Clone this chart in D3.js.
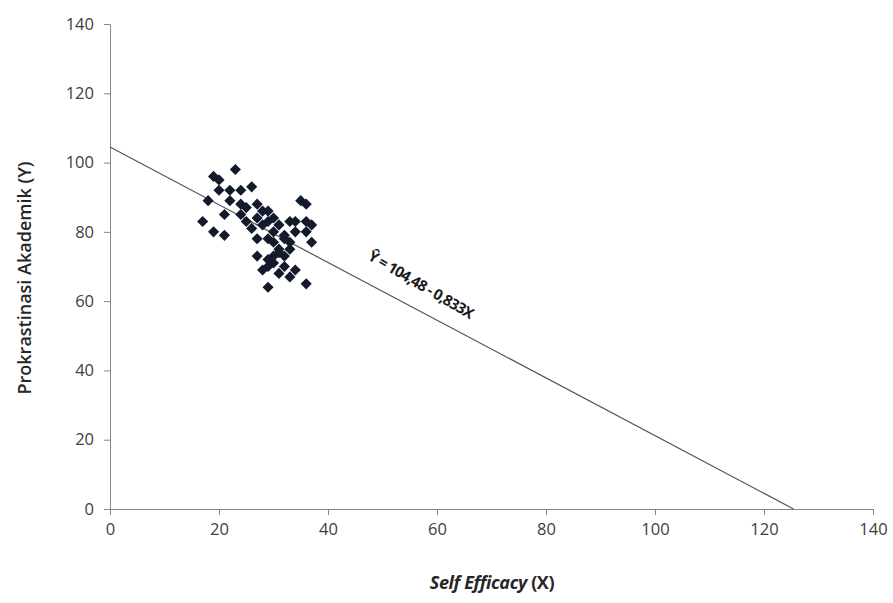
<!DOCTYPE html>
<html>
<head>
<meta charset="utf-8">
<script src="https://cdn.jsdelivr.net/npm/d3@7"></script>
<style>
  body { margin: 0; background: #fff; }
  .axis path, .axis line { stroke: #868686; }
  .axis text { font-family: "Open Sans", sans-serif; font-size: 16.5px; fill: #404040; }
</style>
</head>
<body>
<svg id="chart" width="893" height="603"></svg>
<script>
// self efficacy (X) and prokrastinasi (Y) scores
var selfEfficacy = [23,19,20,20,18,22,24,26,22,24,27,28,29,21,17,19,21,24,25,27,28,29,31,33,35,36,34,36,37,34,36,37,27,29,30,32,33,27,29,28,29,30,31,33,32,34,29,36,31,33,30,32,25,26,30,31,30,32];
var prokrastinasi = [98,96,95,92,89,92,92,93,89,88,88,86,86,85,83,80,79,85,83,84,82,83,82,83,89,88,83,83,82,80,80,77,78,78,80,79,77,73,72,69,70,71,75,75,70,69,64,65,68,67,77,78,87,81,84,74,73,73];
var xTicks = [0,20,40,60,80,100,120,140];
var yTicks = [0,20,40,60,80,100,120,140];
var intercept = 104.48, slope = -0.833;

var svg = d3.select('#chart'),
    MARGINS = { top: 24, right: 20, bottom: 94, left: 110 },
    WIDTH = 893, HEIGHT = 603;

var xScale = d3.scaleLinear().domain([0,140]).range([MARGINS.left, 873]);
var yScale = d3.scaleLinear().domain([0,140]).range([509, MARGINS.top]);

var xAxis = d3.axisBottom(xScale).tickValues(xTicks).tickSize(6).tickSizeOuter(0).tickPadding(8);
var yAxis = d3.axisLeft(yScale).tickValues(yTicks).tickSize(6).tickSizeOuter(0).tickPadding(10);

svg.append('g')
   .attr('class', 'axis')
   .attr('transform', 'translate(0,' + yScale(0) + ')')
   .call(xAxis);

svg.append('g')
   .attr('class', 'axis')
   .attr('transform', 'translate(' + xScale(0) + ',0)')
   .call(yAxis);

// regression line
var xEnd = -intercept / slope;
svg.append('line')
   .attr('x1', xScale(0)).attr('y1', yScale(intercept))
   .attr('x2', xScale(xEnd)).attr('y2', yScale(0))
   .attr('stroke', '#555').attr('stroke-width', 1.2);

// points
var diamond = d3.symbol().type(d3.symbolSquare).size(62);
svg.selectAll('.point')
   .data(selfEfficacy)
   .enter().append('path')
   .attr('class', 'point')
   .attr('d', diamond)
   .attr('fill', '#121a2c')
   .attr('transform', function(d, i) {
       return 'translate(' + xScale(d) + ',' + yScale(prokrastinasi[i]) + ') rotate(45)';
   });

// equation label along the line
var angle = Math.atan2(yScale(0) - yScale(intercept), xScale(xEnd) - xScale(0)) * 180 / Math.PI;
svg.append('text')
   .attr('transform', 'translate(' + 367 + ',' + 259 + ') rotate(' + (angle + 2.5) + ')')
   .attr('font-family', '"Open Sans", sans-serif')
   .attr('font-size', 15)
   .attr('font-weight', 'bold')
   .attr('letter-spacing', -0.8)
   .attr('fill', '#1a1a1a')
   .text('Ŷ = 104,48 - 0,833X');

// axis titles
svg.append('text')
   .attr('transform', 'translate(31,' + 278 + ') rotate(-90)')
   .attr('text-anchor', 'middle')
   .attr('font-family', '"Open Sans", sans-serif')
   .attr('font-size', 18)
   .attr('font-weight', 600)
   .attr('fill', '#262626')
   .text('Prokrastinasi Akademik (Y)');

var xt = svg.append('text')
   .attr('x', 492).attr('y', 589)
   .attr('text-anchor', 'middle')
   .attr('font-family', '"Open Sans", sans-serif')
   .attr('font-size', 18)
   .attr('font-weight', 700)
   .attr('letter-spacing', -0.4)
   .attr('fill', '#262626');
xt.append('tspan').attr('font-style', 'italic').text('Self Efficacy');
xt.append('tspan').text(' (X)');
</script>
</body>
</html>
